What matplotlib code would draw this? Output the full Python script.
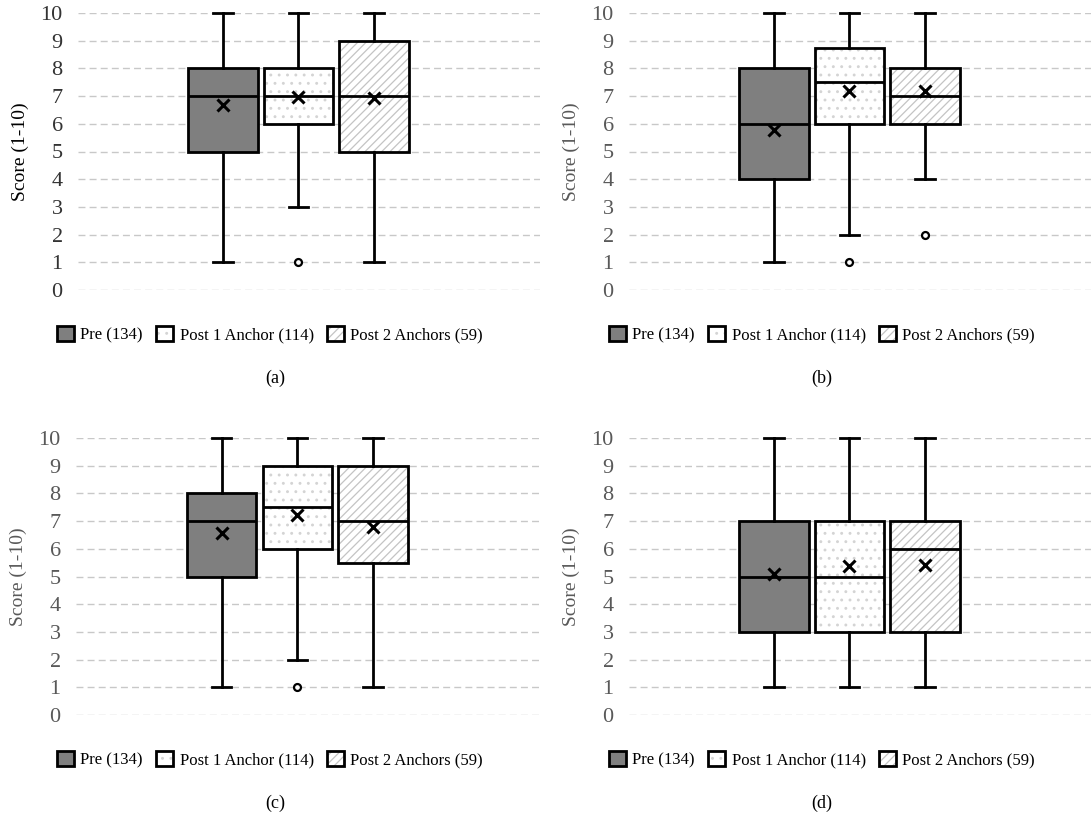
import matplotlib
matplotlib.use("Agg")
import matplotlib.pyplot as plt
from matplotlib.patches import Patch, PathPatch

plt.rcParams["font.family"] = ["Liberation Serif", "DejaVu Serif"]
plt.rcParams["hatch.linewidth"] = 0.9

SERIES = ["Pre (134)", "Post 1 Anchor (114)", "Post 2 Anchors (59)"]
PANELS = ["(a)", "(b)", "(c)", "(d)"]

# box stats per panel, order: Pre, Post 1 Anchor, Post 2 Anchors
a_low = [1, 3, 1]
a_q1 = [5, 6, 5]
a_med = [7, 7, 7]
a_q3 = [8, 8, 9]
a_high = [10, 10, 10]
a_mean = [6.68, 6.98, 6.92]
a_fliers = [[], [1], []]

b_low = [1, 2, 4]
b_q1 = [4, 6, 6]
b_med = [6, 7.5, 7]
b_q3 = [8, 8.75, 8]
b_high = [10, 10, 10]
b_mean = [5.76, 7.2, 7.18]
b_fliers = [[], [1], [2]]

c_low = [1, 2, 1]
c_q1 = [5, 6, 5.5]
c_med = [7, 7.5, 7]
c_q3 = [8, 9, 9]
c_high = [10, 10, 10]
c_mean = [6.57, 7.23, 6.78]
c_fliers = [[], [1], []]

d_low = [1, 1, 1]
d_q1 = [3, 3, 3]
d_med = [5, 5, 6]
d_q3 = [7, 7, 7]
d_high = [10, 10, 10]
d_mean = [5.08, 5.38, 5.42]
d_fliers = [[], [], []]

PANEL_DATA = [
    (a_low, a_q1, a_med, a_q3, a_high, a_mean, a_fliers),
    (b_low, b_q1, b_med, b_q3, b_high, b_mean, b_fliers),
    (c_low, c_q1, c_med, c_q3, c_high, c_mean, c_fliers),
    (d_low, d_q1, d_med, d_q3, d_high, d_mean, d_fliers),
]

FILLS = ["#7f7f7f", "white", "white"]
HATCHES = [None, "..", "////"]
HATCH_COLS = [None, "#d4d4d4", "#c4c4c4"]

W, H = 1091, 818
# axes rectangles in pixels: left, right, top(y=10), bottom(y=0)
RECTS = [(78, 540, 13, 290), (629, 1091, 13, 290),
         (76, 540, 438, 715), (629, 1091, 438, 715)]
LEG_POS = [(270, 335), (822, 335), (270, 760), (822, 760)]
LAB_POS = [(275, 378), (822, 378), (275, 803), (822, 803)]
TICK_COL = ["#333333", "#595959", "#595959", "#595959"]
YLAB_COL = ["#000000", "#595959", "#595959", "#595959"]

fig = plt.figure(figsize=(W / 100, H / 100), dpi=100)

for k, (rect, data) in enumerate(zip(RECTS, PANEL_DATA)):
    l, r, t, b = rect
    ax = fig.add_axes([l / W, 1 - b / H, (r - l) / W, (b - t) / H])
    low, q1, med, q3, high, mean, fliers = data
    stats = []
    for i in range(3):
        stats.append({"whislo": low[i], "q1": q1[i], "med": med[i], "q3": q3[i],
                      "whishi": high[i], "mean": mean[i], "fliers": fliers[i]})
    res = ax.bxp(stats, positions=[1, 2, 3], widths=0.92, patch_artist=True,
                 showmeans=True, showfliers=True,
                 boxprops=dict(linewidth=2, edgecolor="black"),
                 whiskerprops=dict(linewidth=2, color="black"),
                 capprops=dict(linewidth=2, color="black"),
                 capwidths=0.26,
                 medianprops=dict(linewidth=2, color="black"),
                 meanprops=dict(marker="x", markersize=9, markeredgewidth=2.2,
                                markeredgecolor="black"),
                 flierprops=dict(marker="o", markersize=5, markeredgewidth=1.6,
                                 markerfacecolor="white", markeredgecolor="black"))
    for i, box in enumerate(res["boxes"]):
        box.set_facecolor(FILLS[i])
        if HATCHES[i]:
            box.set_hatch(HATCHES[i])
            box.set_edgecolor(HATCH_COLS[i])
            box.set_linewidth(0)
            ax.add_patch(PathPatch(box.get_path(), fill=False, edgecolor="black",
                                   linewidth=2, zorder=box.get_zorder() + 0.1))
    for art in res["medians"] + res["means"] + res["fliers"] + res["caps"]:
        art.set_zorder(4)
        art.set_clip_on(False)
    for art in res["whiskers"]:
        art.set_clip_on(False)

    ax.set_xlim(-0.92, 5.2)
    ax.set_ylim(0, 10)
    ax.set_yticks(range(0, 11))
    ax.set_xticks([])
    for s in ax.spines.values():
        s.set_visible(False)
    ax.yaxis.grid(True, color="#c8c8c8", linestyle=(0, (5, 3)), linewidth=1)
    ax.set_axisbelow(True)
    ax.tick_params(axis="y", length=0, pad=11, labelsize=16, labelcolor=TICK_COL[k])
    ax.set_ylabel("Score (1-10)", fontsize=14, color=YLAB_COL[k], labelpad=8)

    handles = []
    for i in range(3):
        if HATCHES[i]:
            fill = Patch(facecolor=FILLS[i], edgecolor=HATCH_COLS[i], linewidth=0,
                         hatch=HATCHES[i])
            edge = Patch(fill=False, edgecolor="black", linewidth=2)
            handles.append((fill, edge))
        else:
            handles.append(Patch(facecolor=FILLS[i], edgecolor="black", linewidth=2))
    lx, ly = LEG_POS[k]
    fig.legend(handles, SERIES, loc="center", bbox_to_anchor=(lx / W, 1 - ly / H),
               ncol=3, frameon=False, fontsize=12, handlelength=1.0,
               handleheight=1.0, handletextpad=0.4, columnspacing=0.8)
    tx, ty = LAB_POS[k]
    fig.text(tx / W, 1 - ty / H, PANELS[k], ha="center", va="center", fontsize=13)

fig.savefig("out.png", dpi=100)
